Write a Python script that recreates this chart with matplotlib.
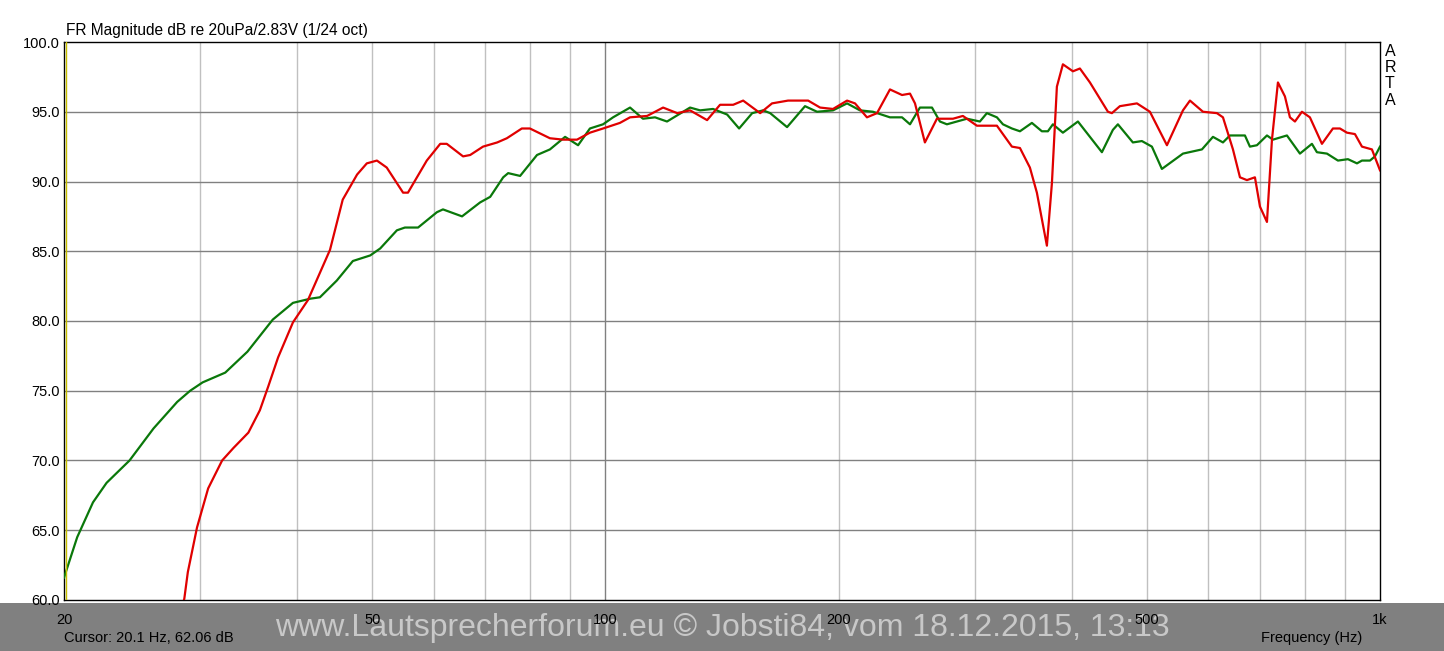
#ARTA style frequency response, two measurements
import numpy as np
import matplotlib
matplotlib.use('Agg')
import matplotlib.pyplot as plt
from matplotlib.patches import Rectangle

plt.rcParams['font.family'] = ['Liberation Sans', 'DejaVu Sans']

#green curve (Hz, dB)
green_f = [20.0, 20.8, 21.8, 22.7, 24.3, 26.1, 28.0, 29.1, 30.2, 32.3, 34.5, 37.2,
           39.5, 41.6, 42.8, 45.0, 47.2, 49.7, 51.2, 53.8, 55.1, 57.3, 60.6, 61.7,
           65.3, 68.9, 71.0, 73.8, 74.9, 77.6, 81.6, 84.8, 88.7, 92.2, 95.5, 99.3,
           102.3, 107.6, 111.8, 115.9, 120.1, 128.6, 132.5, 137.7, 143.6, 148.8,
           154.7, 159.8, 163.2, 171.6, 181.0, 187.6, 196.7, 205.1, 213.1, 221.5,
           233.0, 241.5, 247.3, 254.7, 264.0, 270.3, 276.0, 284.3, 292.9, 304.4,
           310.8, 320.2, 326.0, 334.8, 342.9, 355.3, 366.0, 372.6, 378.2, 389.6,
           407.4, 422.2, 437.5, 452.0, 458.8, 479.7, 492.7, 507.6, 522.9, 556.7,
           589.0, 608.6, 627.0, 640.1, 669.3, 679.3, 693.6, 714.6, 727.4, 758.3,
           788.2, 816.8, 829.0, 854.1, 882.5, 909.1, 933.8, 947.8, 970.6, 985.1, 1000.0]
green_db = [61.6, 64.5, 67.0, 68.4, 70.0, 72.3, 74.2, 75.0, 75.6, 76.3, 77.8, 80.1,
            81.3, 81.6, 81.7, 82.9, 84.3, 84.7, 85.2, 86.5, 86.7, 86.7, 87.8, 88.0,
            87.5, 88.5, 88.9, 90.3, 90.6, 90.4, 91.9, 92.3, 93.2, 92.6, 93.8, 94.1,
            94.6, 95.3, 94.5, 94.6, 94.3, 95.3, 95.1, 95.2, 94.8, 93.8,
            94.9, 95.1, 94.9, 93.9, 95.4, 95.0, 95.1, 95.6, 95.1, 95.0,
            94.6, 94.6, 94.1, 95.3, 95.3, 94.3, 94.1, 94.3, 94.5, 94.3,
            94.9, 94.6, 94.1, 93.8, 93.6, 94.2, 93.6, 93.6, 94.1, 93.5,
            94.3, 93.2, 92.1, 93.7, 94.1, 92.8, 92.9, 92.5, 90.9, 92.0,
            92.3, 93.2, 92.8, 93.3, 93.3, 92.5, 92.6, 93.3, 93.0, 93.3,
            92.0, 92.7, 92.1, 92.0, 91.5, 91.6, 91.3, 91.5, 91.5, 91.8, 92.5]

#red curve (Hz, dB)
red_f = [28.2, 28.6, 28.9, 29.7, 30.7, 32.0, 33.1, 34.6, 35.8, 36.7, 37.8, 39.5,
         41.3, 42.6, 44.1, 45.8, 47.8, 49.2, 50.7, 52.2, 54.8, 55.6, 58.8, 61.2,
         62.4, 65.5, 66.9, 69.5, 72.5, 74.6, 78.0, 79.9, 84.8, 88.2, 91.9, 95.5,
         99.3, 104.4, 107.6, 113.2, 118.7, 123.8, 128.6, 135.3, 140.6, 146.2,
         150.6, 158.4, 164.1, 172.1, 182.7, 189.3, 196.7, 205.1, 210.0, 217.6,
         224.2, 233.0, 241.5, 247.3, 251.0, 258.5, 267.9, 281.0, 289.4, 301.7,
         320.2, 334.8, 342.9, 353.2, 360.6, 371.5, 377.1, 382.7, 389.6, 401.4,
         409.8, 422.2, 445.4, 450.7, 461.5, 485.5, 504.6, 530.8, 556.7, 568.4,
         590.8, 615.8, 627.0, 645.9, 659.5, 673.3, 689.5, 699.9, 714.6, 725.3,
         738.3, 753.8, 765.1, 776.6, 792.9, 811.9, 841.5, 869.4, 887.7, 906.4,
         928.2, 947.8, 976.3, 1000.0]
red_db = [58.8, 60.1, 62.0, 65.2, 68.0, 70.0, 70.9, 72.0, 73.6, 75.3, 77.4, 79.9,
          81.5, 83.2, 85.1, 88.7, 90.5, 91.3, 91.5, 91.0, 89.2, 89.2, 91.5, 92.7,
          92.7, 91.8, 91.9, 92.5, 92.8, 93.1, 93.8, 93.8, 93.1, 93.0, 93.0, 93.5,
          93.8, 94.2, 94.6, 94.7, 95.3, 94.9, 95.1, 94.4, 95.5, 95.5,
          95.8, 94.9, 95.6, 95.8, 95.8, 95.3, 95.2, 95.8, 95.6, 94.6,
          94.9, 96.6, 96.2, 96.3, 95.6, 92.8, 94.5, 94.5, 94.7, 94.0,
          94.0, 92.5, 92.4, 91.0, 89.2, 85.4, 89.9, 96.8, 98.4, 97.9,
          98.1, 97.1, 95.0, 94.9, 95.4, 95.6, 95.0, 92.6, 95.1, 95.8,
          95.0, 94.9, 94.6, 92.3, 90.3, 90.1, 90.3, 88.2, 87.1, 93.0,
          97.1, 96.1, 94.6, 94.3, 95.0, 94.6, 92.7, 93.8, 93.8, 93.5,
          93.4, 92.5, 92.3, 90.8]

yticks = [60, 65, 70, 75, 80, 85, 90, 95, 100]
xtick_vals = [20, 50, 100, 200, 500, 1000]
xtick_labels = ['20', '50', '100', '200', '500', '1k']
minor_grid = [30, 40, 50, 60, 70, 80, 90, 200, 300, 400, 500, 600, 700, 800, 900]

fig = plt.figure(figsize=(14.44, 6.51), dpi=100)
fig.patch.set_facecolor('white')
# gray strip at the bottom, drawn below everything else
fig.patches.append(Rectangle((0, 0), 1, 48 / 651, transform=fig.transFigure,
                             facecolor='#808080', edgecolor='none', zorder=-2))
fig.text(722 / 1444, 1 - 628 / 651,
         'www.Lautsprecherforum.eu \u00a9 Jobsti84, vom 18.12.2015, 13:13',
         fontsize=23, color='#c8c8c8', va='center', ha='center', zorder=-1)

ax = fig.add_axes([64 / 1444, 51 / 651, 1316 / 1444, 558 / 651])
ax.set_xscale('log')
ax.set_xlim(20, 1000)
ax.set_ylim(60, 100)

for f in minor_grid:
    ax.axvline(f, color='#c0c0c0', lw=1.0, zorder=1)
ax.axvline(100, color='#808080', lw=1.0, zorder=1)
for y in yticks[1:-1]:
    ax.axhline(y, color='#808080', lw=1.0, zorder=1)

ax.plot(green_f, green_db, color='#0a780a', lw=1.6, zorder=3)
ax.plot(red_f, red_db, color='#e00000', lw=1.6, zorder=4)
ax.axvline(20.1, color='#c8c000', lw=1.0, zorder=5)

ax.set_yticks(yticks)
ax.set_yticklabels(['%.1f' % v for v in yticks])
ax.set_xticks(xtick_vals)
ax.set_xticklabels(xtick_labels)
ax.xaxis.set_minor_locator(matplotlib.ticker.NullLocator())
ax.tick_params(axis='both', length=0, labelsize=10.5)
ax.tick_params(axis='x', pad=9)
ax.tick_params(axis='y', pad=3)
for s in ax.spines.values():
    s.set_color('black')
    s.set_linewidth(1.0)

fig.text(66 / 1444, 1 - 31 / 651, 'FR Magnitude dB re 20uPa/2.83V (1/24 oct)',
         fontsize=11.2, va='center', ha='left')
fig.text(1385 / 1444, 1 - 44 / 651, 'A\nR\nT\nA', fontsize=11.5, va='top',
         ha='left', linespacing=1.1)
fig.text(64 / 1444, 1 - 638 / 651, 'Cursor: 20.1 Hz, 62.06 dB', fontsize=10.5,
         va='center', ha='left')
fig.text(1362 / 1444, 1 - 638 / 651, 'Frequency (Hz)', fontsize=10.5,
         va='center', ha='right')

fig.savefig('out.png', dpi=100)
